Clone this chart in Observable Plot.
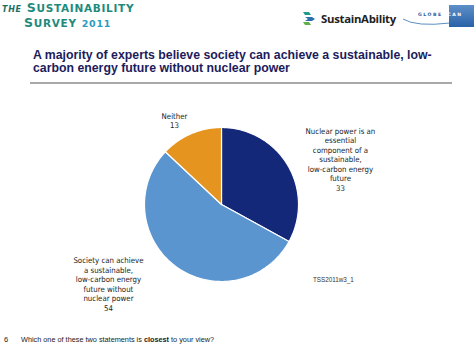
<!DOCTYPE html>
<html>
<head>
<meta charset="utf-8">
<script src="https://cdn.jsdelivr.net/npm/d3@7"></script>
<script src="https://cdn.jsdelivr.net/npm/@observablehq/plot@0.6"></script>
<style>
  html, body { margin: 0; padding: 0; background: #ffffff; }
  #page { position: relative; width: 474px; height: 356px; overflow: hidden; font-family: "Liberation Sans", Arial, sans-serif; }
  #chart { position: absolute; left: 0; top: 0; }
  .abs { position: absolute; white-space: nowrap; }
  #brand1 { left: 2px; top: 0px; color: #1f8a7c; font-family: "DejaVu Sans", sans-serif; font-weight: bold; font-size: 12.5px; letter-spacing: 0.7px; }
  #brand2 { left: 24px; top: 15px; color: #1f8a7c; font-family: "DejaVu Sans", sans-serif; font-weight: bold; font-size: 12.5px; letter-spacing: 0.7px; }
  .sc { font-size: 10.5px; }
  .tl { left: 33px; color: #1c1c5c; font-weight: bold; font-size: 12.3px; line-height: 12.5px; }
  #rule { left: 30px; top: 82px; width: 422px; height: 1.5px; background: #a9a9a9; }
  #sust { left: 321px; top: 11px; color: #222; font-family: "Open Sans", sans-serif; font-weight: bold; font-size: 11.4px; letter-spacing: -0.3px; }
  #globe { left: 418px; top: 12px; color: #2a5ea0; font-family: "DejaVu Sans", sans-serif; font-weight: bold; font-size: 4.6px; letter-spacing: 1.5px; }
  #scanbox { left: 449px; top: 5px; width: 25px; height: 22px; background: linear-gradient(#5d8fc8, #2a62a8); }
  #tss { left: 313px; top: 276px; color: #333; font-size: 6.3px; }
  #pg { left: 4px; top: 335px; color: #222; font-size: 7.5px; }
  #q { left: 21px; top: 335px; color: #222; font-size: 7.3px; }
</style>
</head>
<body>
<div id="page">
  <div id="chart"></div>
  <div class="abs" id="brand1"><i style="font-size:8px;color:#1b6f64">THE</i> S<span class="sc">USTAINABILITY</span></div>
  <div class="abs" id="brand2">S<span class="sc">URVEY</span> <span style="color:#2b9cc0;font-size:9.5px">2011</span></div>
  <svg class="abs" style="left:302px;top:11px" width="16" height="15" viewBox="0 0 16 15">
    <path d="M1 1 L7 1 L9 4 L3 4 Z" fill="#1f9a8c"/>
    <path d="M3 6 L10 6 L13 8 L10 10 L3 10 L6 8 Z" fill="#2b6fb0"/>
    <path d="M1 11 L7 11 L9 14 L3 14 Z" fill="#5fb04a"/>
  </svg>
  <div class="abs" id="sust">SustainAbility</div>
  <svg class="abs" style="left:402px;top:14px" width="50" height="14">
    <path d="M1 5 Q 14 13 48 9" stroke="#5a8fc0" stroke-width="1" fill="none"/>
  </svg>
  <div class="abs" id="scanbox"></div>
  <div class="abs" id="globe">GLOBE<span style="color:#ffffff">SCAN</span></div>
  <div class="abs tl" style="top:49px">A majority of experts believe society can achieve a sustainable, low-</div>
  <div class="abs tl" style="top:61.5px">carbon energy future without nuclear power</div>
  <div class="abs" id="rule"></div>
  <div class="abs" id="tss">TSS2011w3_1</div>
  <div class="abs" id="pg">6</div>
  <div class="abs" id="q">Which one of these two statements is <b>closest</b> to your view?</div>
</div>
<script>
// ---- data ----
const categories = ["Nuclear essential", "Without nuclear", "Neither"];
const values = [33, 54, 13];
const labelLines = [
  ["Nuclear power is an", "essential", "component of a", "sustainable,", "low-carbon energy", "future"],
  ["Society can achieve", "a sustainable,", "low-carbon energy", "future without", "nuclear power"],
  ["Neither"]
];
const colors = ["#14287a", "#5b95d0", "#e5951f"];

// label anchor positions (in pie-radius units relative to centre)
const labelPos = [[1.545, 0.59], [-1.468, -1.03], [-0.61, 1.09]];

// ---- build slice polygons from values ----
const pie = d3.pie().sort(null).value(d => d)(values);
const pts = [];
pie.forEach((p, i) => {
  const name = categories[i];
  pts.push({name, x: 0, y: 0});
  const n = Math.max(2, Math.ceil((p.endAngle - p.startAngle) / (Math.PI / 180)));
  for (let k = 0; k <= n; k++) {
    const a = p.startAngle + (p.endAngle - p.startAngle) * k / n;
    pts.push({name, x: Math.sin(a), y: Math.cos(a)});
  }
  pts.push({name, x: 0, y: 0});
});

const labels = categories.map((c, i) => ({
  name: c,
  text: labelLines[i].concat([String(values[i])]).join("\n"),
  x: labelPos[i][0],
  y: labelPos[i][1]
}));

const cx = 221, cy = 204, r = 77;
const chart = Plot.plot({
  width: 474,
  height: 356,
  margin: 0,
  x: {domain: [-1, 1], range: [cx - r, cx + r], axis: null},
  y: {domain: [-1, 1], range: [cy + r, cy - r], axis: null},
  color: {domain: categories, range: colors},
  marks: [
    Plot.line(pts, {x: "x", y: "y", z: "name", fill: "name", stroke: "#ffffff", strokeWidth: 1.2, curve: "linear", strokeLinejoin: "round"}),
    Plot.text(labels, {x: "x", y: "y", text: "text", fontSize: 7.8, lineHeight: 1.22, fill: "#222", fontFamily: "DejaVu Sans Condensed, DejaVu Sans, sans-serif", textAnchor: "middle"})
  ]
});
chart.style.background = "transparent";
document.getElementById("chart").appendChild(chart);
</script>
</body>
</html>
